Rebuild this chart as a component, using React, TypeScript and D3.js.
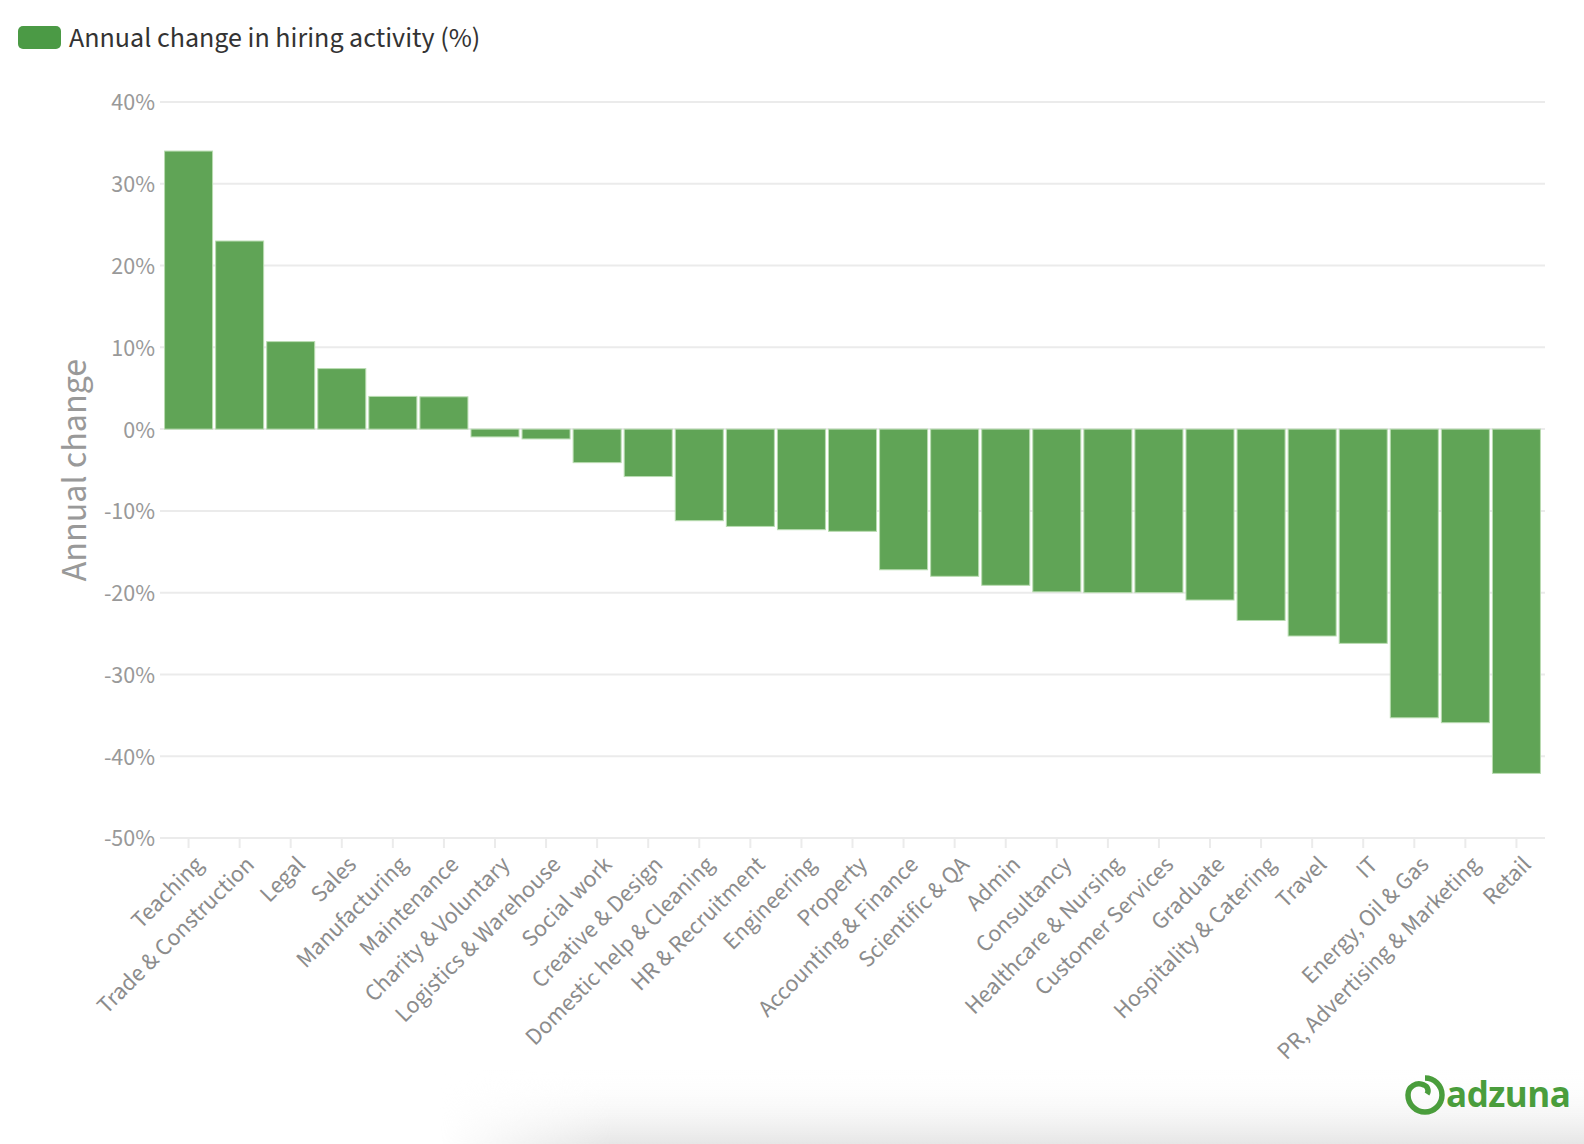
import { useMemo } from "react";
import * as d3 from "d3";

// sectors, sorted by annual change
const sectors = [
  "Teaching",
  "Trade & Construction",
  "Legal",
  "Sales",
  "Manufacturing",
  "Maintenance",
  "Charity & Voluntary",
  "Logistics & Warehouse",
  "Social work",
  "Creative & Design",
  "Domestic help & Cleaning",
  "HR & Recruitment",
  "Engineering",
  "Property",
  "Accounting & Finance",
  "Scientific & QA",
  "Admin",
  "Consultancy",
  "Healthcare & Nursing",
  "Customer Services",
  "Graduate",
  "Hospitality & Catering",
  "Travel",
  "IT",
  "Energy, Oil & Gas",
  "PR, Advertising & Marketing",
  "Retail",
];

const annualChange = [
  34.0, 23.0, 10.7, 7.4, 4.0, 3.95, -0.95, -1.2, -4.1, -5.8, -11.2, -11.9,
  -12.3, -12.5, -17.2, -18.0, -19.1, -19.9, -20.0, -20.0, -20.9, -23.4, -25.3,
  -26.2, -35.3, -35.9, -42.1,
];

const yTicks = [40, 30, 20, 10, 0, -10, -20, -30, -40, -50];

const legendLabel = "Annual change in hiring activity (%)";
const yTitle = "Annual change";

const FONT = "'Source Sans Pro', 'Source Sans 3', Lato, sans-serif";

const width = 1584;
const height = 1144;
const margin = { top: 102, right: 41, bottom: 306, left: 162 };

export default function App() {
  const xScale = useMemo(
    () =>
      d3
        .scaleBand<string>()
        .domain(sectors)
        .range([margin.left, width - margin.right])
        .paddingInner(0.06)
        .paddingOuter(0.05),
    []
  );

  const yScale = useMemo(
    () =>
      d3
        .scaleLinear()
        .domain([-50, 40])
        .range([height - margin.bottom, margin.top]),
    []
  );

  const y0 = yScale(0);
  const yBottom = yScale(-50);

  return (
    <svg
      width={width}
      height={height}
      style={{ display: "block", position: "absolute", left: 0, top: 0 }}
      fontFamily={FONT}
    >
      <defs>
        <linearGradient id="shade" x1="0" y1="0" x2="0" y2="1">
          <stop offset="0" stopColor="#ffffff" stopOpacity={0} />
          <stop offset="1" stopColor="#e6e6e6" stopOpacity={1} />
        </linearGradient>
        <linearGradient id="shadeX" x1="0" y1="0" x2="1" y2="0">
          <stop offset="0" stopColor="#fff" stopOpacity={0} />
          <stop offset="0.15" stopColor="#fff" stopOpacity={1} />
          <stop offset="1" stopColor="#fff" stopOpacity={1} />
        </linearGradient>
        <mask id="fadeMask">
          <rect x={440} y={1070} width={1144} height={74} fill="url(#shadeX)" />
        </mask>
      </defs>
      <rect width={width} height={height} fill="#fff" />
      <rect
        x={440}
        y={1070}
        width={1144}
        height={74}
        fill="url(#shade)"
        mask="url(#fadeMask)"
      />

      {/* legend */}
      <rect x={18} y={26} width={43} height={23} rx={5} fill="#4b9a45" />
      <text x={69} y={47} fontSize={28} fill="#333">
        {legendLabel}
      </text>

      {/* grid + y axis */}
      {yTicks.map((t) => (
        <g key={t}>
          <line
            x1={margin.left - 2}
            x2={width - margin.right + 2}
            y1={yScale(t)}
            y2={yScale(t)}
            stroke="#ebebeb"
            strokeWidth={2}
          />
          <text
            x={155}
            y={yScale(t)}
            dy="0.35em"
            textAnchor="end"
            fontSize={24}
            fill="#999"
          >
            {t}%
          </text>
        </g>
      ))}

      <text
        transform={`translate(86, ${(yScale(40) + yBottom) / 2}) rotate(-90)`}
        textAnchor="middle"
        fontSize={36}
        fill="#999"
      >
        {yTitle}
      </text>

      {/* bars */}
      {sectors.map((s, i) => {
        const v = annualChange[i];
        const yv = yScale(v);
        return (
          <rect
            key={s}
            x={xScale(s)}
            width={xScale.bandwidth()}
            y={Math.min(yv, y0)}
            height={Math.abs(yv - y0)}
            fill="#60a456"
            stroke="#b9dcb1"
            strokeWidth={1}
          />
        );
      })}

      {/* x axis ticks and labels */}
      {sectors.map((s) => {
        const cx = (xScale(s) ?? 0) + xScale.bandwidth() / 2;
        return (
          <g key={s}>
            <line
              x1={cx}
              x2={cx}
              y1={yBottom}
              y2={yBottom + 10}
              stroke="#ebebeb"
              strokeWidth={2}
            />
            <text
              transform={`translate(${cx + 10}, ${yBottom + 22}) rotate(-45)`}
              textAnchor="end"
              dy="0.35em"
              fontSize={24}
              fill="#8c8c8c"
            >
              {s}
            </text>
          </g>
        );
      })}

      {/* adzuna logo */}
      <g transform="translate(1424, 1095)" fill="none" stroke="#4a9d3c">
        <path
          d="M 1 -17 A 17 17 0 1 1 -16 0 A 11 11 0 0 1 0 -10 A 6 6 0 0 1 3 -1"
          strokeWidth={5.5}
          strokeLinecap="butt"
        />
      </g>
      <text
        x={1446}
        y={1107}
        fontSize={35}
        fontWeight={700}
        fill="#4a9d3c"
        fontFamily="'Open Sans', sans-serif"
        letterSpacing={-0.5}
      >
        adzuna
      </text>
    </svg>
  );
}
